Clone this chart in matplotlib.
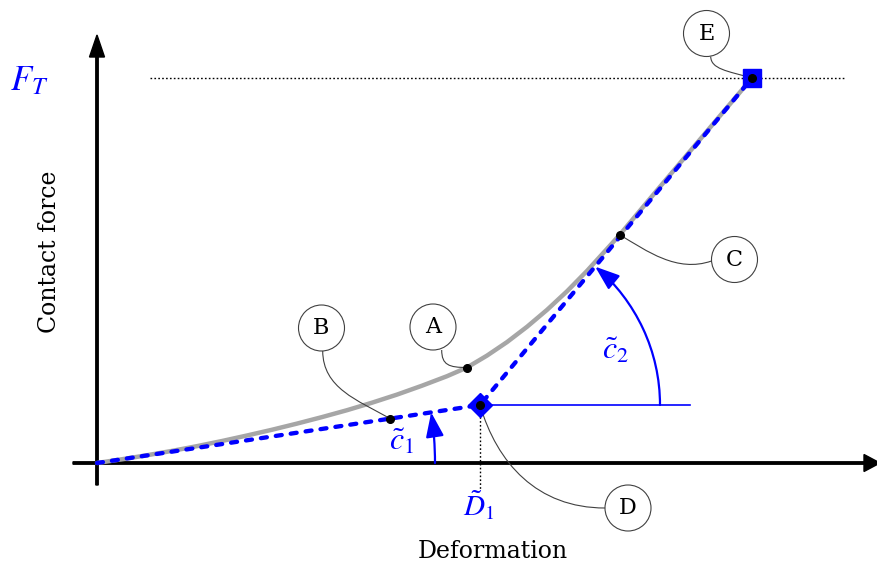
import matplotlib.pyplot as plt
import numpy as np
from matplotlib.patches import Circle, FancyArrowPatch, PathPatch
from matplotlib.path import Path
from matplotlib.transforms import Affine2D

plt.rcParams["mathtext.fontset"] = "stix"

blue = "#0000FF"
gray = "#A6A6A6"
ink = "#404040"
serif = "DejaVu Serif"

# measured force-deformation curve
curve_x = [0, 25, 50, 75, 100, 125, 150, 175, 200, 225, 250, 275, 300, 325, 350,
           370, 390, 410, 430, 450, 470, 490, 510, 523, 560, 600, 655]
curve_y = [0, 3.75, 7.75, 12.1, 16.85, 22, 27.5, 33.25, 39.4, 45.9, 52.8, 60.3,
           68.4, 77.3, 86.8, 95.5, 107.4, 120.9, 136.2, 153.1, 171.7, 192.1,
           214.1, 228.5, 272.7, 320, 385]

# bilinear approximation: origin -> D1 -> target
bilin_x = [0, 383, 655]
bilin_y = [0, 58, 385]
F_T = 385

# labelled points and their callouts
labels = ["A", "B", "C", "D", "E"]
pts = {"A": (370, 95.5), "B": (293, 44.5), "C": (523, 228), "D": (383, 58), "E": (655, 385)}
bubbles = {"A": (336, 136), "B": (224.5, 135), "C": (637.5, 203.5),
           "D": (531, -45), "E": (609.5, 429.5)}
# cubic leader lines: (start, ctrl1, ctrl2, end)
leaders = {
    "A": [(344.7, 113), (344.7, 98), (352, 95.5), (370, 95.5)],
    "B": [(225.7, 112), (226, 75), (260, 63), (293, 44.5)],
    "C": [(614.5, 202), (580, 190), (550, 212), (523, 228)],
    "D": [(508, -45), (440, -45), (400, 0), (383, 58)],
    "E": [(613.7, 406.5), (614, 394), (630, 392), (655, 385)],
}

fig = plt.figure(figsize=(8.78, 5.68), dpi=100)
ax = fig.add_axes([0, 0, 1, 1])
ax.set_xlim(-97, 781)
ax.set_ylim(-105, 463)
ax.axis("off")

# axes with arrow heads
ax.arrow(-24, 0, 807, 0, width=2.4, head_width=17, head_length=16,
         length_includes_head=True, color="k", zorder=2)
ax.arrow(0, -22, 0, 450, width=2.4, head_width=15, head_length=22,
         length_includes_head=True, color="k", zorder=2)

ax.plot([53, 748], [F_T, F_T], color="k", lw=1, ls=(0, (1.2, 1.6)), zorder=1)
ax.text(-87, F_T - 2, r"$F_T$", color=blue, fontsize=25, ha="left", va="center")

ax.plot(curve_x, curve_y, color=gray, lw=3.2, solid_capstyle="round",
        solid_joinstyle="round", zorder=3)
ax.plot(bilin_x, bilin_y, color=blue, lw=3.1, dash_capstyle="round",
        dashes=(1.4, 2.1), zorder=4)

# D1 marker with vertical projection
ax.plot([bilin_x[1], bilin_x[1]], [bilin_y[1], -27], color="k", lw=1,
        ls=(0, (1.2, 1.6)), zorder=2)
ax.plot([bilin_x[1], 593], [bilin_y[1], bilin_y[1]], color=blue, lw=1.2, zorder=3)
ax.plot(bilin_x[1], bilin_y[1], marker="D", ms=12.5, color=blue, zorder=6)
ax.plot(bilin_x[2], bilin_y[2], marker="s", ms=12.5, color=blue, zorder=6)


def arc_arrow(cx, cy, r, a0, a1, hl, hw):
    path = Affine2D().scale(r).translate(cx, cy).transform_path(Path.arc(a0, a1))
    arr = FancyArrowPatch(path=path, color=blue, lw=1.6, mutation_scale=1,
                          arrowstyle=f"-|>,head_length={hl},head_width={hw}",
                          zorder=5)
    ax.add_patch(arr)


ang1 = np.degrees(np.arctan2(bilin_y[1], bilin_x[1]))
ang2 = np.degrees(np.arctan2(bilin_y[2] - bilin_y[1], bilin_x[2] - bilin_x[1]))
arc_arrow(0, 0, 338, 0, ang1, 15, 5.5)
arc_arrow(bilin_x[1], bilin_y[1], 180, 0, ang2, 15, 5.5)

ax.text(305, 22, r"$\tilde{c}_{\mathit{1}}$", color=blue, fontsize=23, ha="center", va="center")
ax.text(519, 113, r"$\tilde{c}_{\mathit{2}}$", color=blue, fontsize=23, ha="center", va="center")
ax.text(382, -42, r"$\tilde{D}_{\mathit{1}}$", color=blue, fontsize=21, ha="center", va="center")

for lab in labels:
    p0, p1, p2, p3 = leaders[lab]
    lead = Path([p0, p1, p2, p3], [Path.MOVETO, Path.CURVE4, Path.CURVE4, Path.CURVE4])
    ax.add_patch(PathPatch(lead, fc="none", ec=ink, lw=0.8, zorder=5))
    ax.add_patch(Circle(bubbles[lab], 23, fc="white", ec=ink, lw=0.8, zorder=7))
    ax.text(*bubbles[lab], lab, family=serif, fontsize=16, ha="center",
            va="center", zorder=8)
    ax.plot(*pts[lab], "o", color="k", ms=5.5, zorder=7)

ax.text(396, -88, "Deformation", family=serif, fontsize=17, ha="center", va="center")
ax.text(-47, 211, "Contact force", family=serif, fontsize=17, ha="center",
        va="center", rotation=90)

fig.savefig("out.png", dpi=100)
